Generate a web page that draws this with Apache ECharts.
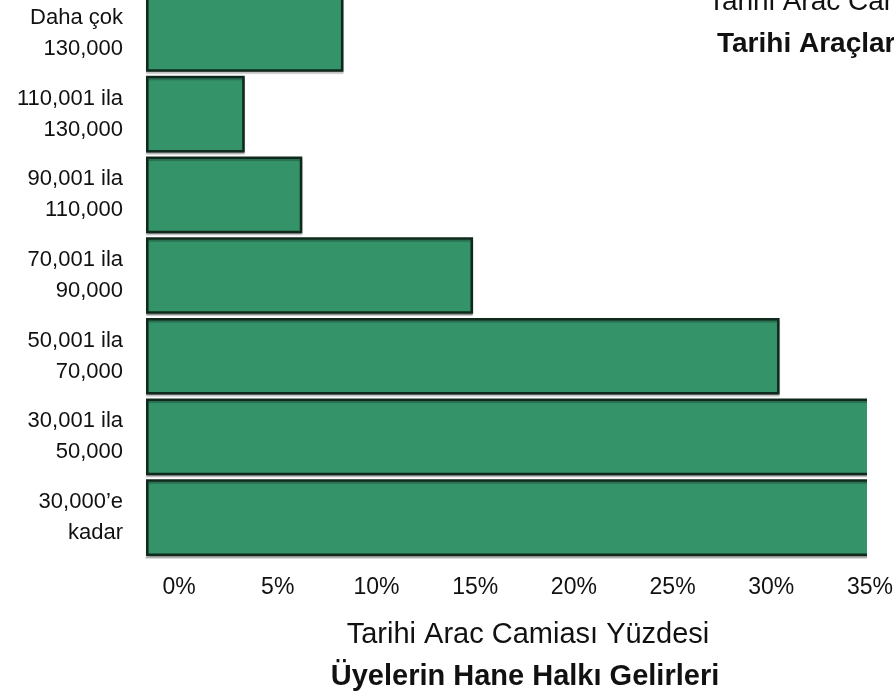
<!DOCTYPE html>
<html>
<head>
<meta charset="utf-8">
<script src="https://cdn.jsdelivr.net/npm/echarts@6/dist/echarts.min.js"></script>
<style>
  html, body { margin: 0; padding: 0; background: #fff; }
  #chart { width: 894px; height: 695px; }
</style>
</head>
<body>
<div id="chart"></div>
<script>
    // gelir grupları (alttan üste)
    var categories = [
        '30,000’e\nkadar',
        '30,001 ila\n50,000',
        '50,001 ila\n70,000',
        '70,001 ila\n90,000',
        '90,001 ila\n110,000',
        '110,001 ila\n130,000',
        'Daha çok\n130,000'
    ];
    // yüzde değerleri (son ikisi 35% sınırını aşıyor, kesik)
    var percents = [38, 37.5, 30.8, 15.9, 7.6, 4.8, 9.6];
    var tickValues = [0, 5, 10, 15, 20, 25, 30, 35];

    var fontFam = '"Liberation Sans", Arial, sans-serif';
    var myChart = echarts.init(document.getElementById('chart'));

    // 146px'de 0, 866px'de 35 -> sağ kenar resmin dışında
    var pxPerPct = (866 - 146) / 35;
    var barMax = (894 + 20 - 146) / pxPerPct;

    var option = {
        animation: false,
        backgroundColor: '#fff',
        grid: [
            { left: 146, right: -20, top: -7, bottom: 137, outerBoundsMode: 'none' },
            // sadece eksen etiketleri için
            { left: 179, right: 24, top: -7, bottom: 137, outerBoundsMode: 'none' }
        ],
        xAxis: [
            {
                type: 'value',
                gridIndex: 0,
                min: 0,
                max: barMax,
                axisLabel: { show: false },
                axisTick: { show: false },
                splitLine: { show: false },
                axisLine: { show: true, lineStyle: { color: '#e2e2e2', width: 2 } }
            },
            {
                type: 'value',
                gridIndex: 1,
                min: 0,
                max: 35,
                interval: 5,
                axisLine: { show: false },
                axisTick: { show: false },
                splitLine: { show: false },
                axisLabel: {
                    margin: 18,
                    fontSize: 23,
                    color: '#111',
                    fontFamily: fontFam,
                    formatter: function (v) {
                        return tickValues.indexOf(v) > -1 ? v + '%' : '';
                    }
                }
            }
        ],
        yAxis: [
            {
                type: 'category',
                gridIndex: 0,
                data: categories,
                axisLine: { show: false },
                axisTick: { show: false },
                axisLabel: {
                    margin: 23,
                    fontSize: 22,
                    lineHeight: 31,
                    color: '#111',
                    fontFamily: fontFam,
                    align: 'right'
                }
            },
            { type: 'value', gridIndex: 1, show: false }
        ],
        series: [{
            type: 'bar',
            xAxisIndex: 0,
            yAxisIndex: 0,
            data: percents,
            barCategoryGap: '5%',
            clip: true,
            itemStyle: {
                color: '#35936a',
                borderColor: '#0f2a1d',
                borderWidth: 2.5,
                shadowColor: 'rgba(0,0,0,0.25)',
                shadowOffsetY: 2,
                shadowBlur: 1
            }
        }],
        graphic: [
            // resim sağda 866px'de kesik: uzun çubukların ucunu beyaz ile ört
            {
                type: 'rect', z: 100,
                shape: { x: 867, y: 385, width: 30, height: 178 },
                style: { fill: '#fff' }
            },
            {
                type: 'text', x: 708, y: 2,
                style: {
                    text: 'Tarihi Arac Camiası Yüzdesi', fontSize: 28, fontFamily: fontFam,
                    fill: '#111', textVerticalAlign: 'middle'
                }
            },
            {
                type: 'text', x: 717, y: 44,
                style: {
                    text: 'Tarihi Araçların', fontSize: 28, fontWeight: 'bold', fontFamily: fontFam,
                    fill: '#111', textVerticalAlign: 'middle'
                }
            },
            {
                type: 'text', x: 528, y: 635,
                style: {
                    text: 'Tarihi Arac Camiası Yüzdesi', fontSize: 29, fontFamily: fontFam,
                    fill: '#111', textAlign: 'center', textVerticalAlign: 'middle'
                }
            },
            {
                type: 'text', x: 525, y: 677,
                style: {
                    text: 'Üyelerin Hane Halkı Gelirleri', fontSize: 29, fontWeight: 'bold', fontFamily: fontFam,
                    fill: '#111', textAlign: 'center', textVerticalAlign: 'middle'
                }
            }
        ]
    };
    myChart.setOption(option);
</script>
</body>
</html>
